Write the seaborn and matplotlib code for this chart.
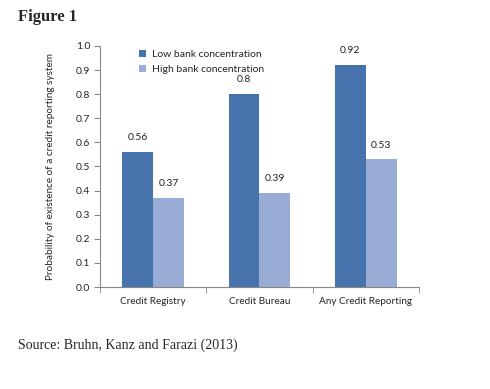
import numpy as np
import pandas as pd
import seaborn as sns
import matplotlib.pyplot as plt

# data
categories = ['Credit Registry', 'Credit Bureau', 'Any Credit Reporting']
low_conc = [0.56, 0.80, 0.92]
high_conc = [0.37, 0.39, 0.53]
low_labels = ['0.56', '0.8', '0.92']
high_labels = ['0.37', '0.39', '0.53']
series = ['Low bank concentration', 'High bank concentration']

df = pd.DataFrame({
    'category': categories * 2,
    'value': low_conc + high_conc,
    'series': [series[0]] * 3 + [series[1]] * 3,
    'label': low_labels + high_labels,
})

sns.set_style('white')
plt.rcParams['font.family'] = ['Lato', 'DejaVu Sans']

fig = plt.figure(figsize=(4.9, 3.89), dpi=100)
ax = fig.add_axes([0.204, 0.262, 0.651, 0.62])

palette = {series[0]: '#4673AB', series[1]: '#98ACD5'}
sns.barplot(data=df, x='category', y='value', hue='series', palette=palette,
            width=0.58, saturation=1, linewidth=0, ax=ax)

# data labels
for cont, labs in zip(ax.containers, [low_labels, high_labels]):
    ax.bar_label(cont, labels=labs, padding=7, fontsize=7.5, color='#222222')

ax.set_ylim(0, 1.0)
ax.set_yticks(np.arange(0, 1.01, 0.1))
ax.set_yticklabels(['%.1f' % v for v in np.arange(0, 1.01, 0.1)], fontsize=7.5)
ax.set_xlim(-0.5, 2.5)
ax.set_xticks(range(3))
ax.set_xticklabels(categories, fontsize=7.2)
ax.set_xticks([-0.5, 0.5, 1.5, 2.5], minor=True)
ax.tick_params(axis='x', which='major', length=0, pad=7)
ax.tick_params(axis='x', which='minor', length=4, color='#888888', direction='out', bottom=True)
ax.tick_params(axis='y', length=4, color='#888888', direction='out', left=True, pad=3)
ax.set_xlabel('')
ax.set_ylabel('Probability of existence of a credit reporting system', fontsize=7.2, labelpad=15)

for s in ['top', 'right']:
    ax.spines[s].set_visible(False)
for s in ['left', 'bottom']:
    ax.spines[s].set_color('#888888')
    ax.spines[s].set_linewidth(0.8)

handles, labels = ax.get_legend_handles_labels()
ax.legend(handles, labels, loc='upper left', bbox_to_anchor=(0.1, 1.013), frameon=False,
          fontsize=7.5, handlelength=0.7, handleheight=0.7, handletextpad=0.5,
          labelspacing=0.5, borderpad=0.2)

fig.text(0.037, 0.945, 'Figure 1', family='Liberation Serif', fontweight='bold', fontsize=12)
fig.text(0.037, 0.103, 'Source: Bruhn, Kanz and Farazi (2013)', family='Liberation Serif', fontsize=10)

plt.savefig('out.png', dpi=100)
